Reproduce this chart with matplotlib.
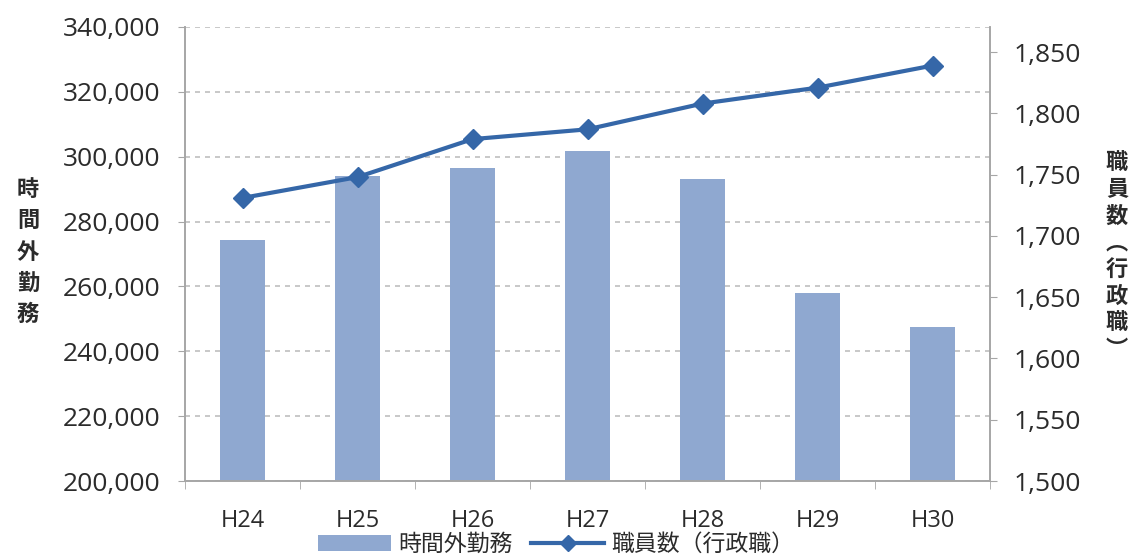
import matplotlib
matplotlib.use("Agg")
import matplotlib.pyplot as plt
import numpy as np
from matplotlib.ticker import FuncFormatter, FixedLocator

plt.rcParams['font.family'] = ['Open Sans', 'Noto Sans CJK JP', 'DejaVu Sans']

# data
years = ['H24', 'H25', 'H26', 'H27', 'H28', 'H29', 'H30']
overtime = [274400, 294000, 296400, 301700, 293000, 258000, 247500]
staff = [1731, 1748, 1779, 1787, 1808, 1821, 1839]

bar_col = '#8FA8D0'
line_col = '#3567A8'
ax_col = '#A6A6A6'
txt_col = '#2B2B2B'

fig = plt.figure(figsize=(11.31, 5.57), dpi=100)
ax = fig.add_axes([185/1131, 1-481/557, 805/1131, 454/557])
ax2 = ax.twinx()

x = np.arange(len(years))
b = ax.bar(x, [v - 200000 for v in overtime], width=0.39, bottom=200000,
           color=bar_col, zorder=2, label='時間外勤務')
l, = ax2.plot(x, staff, color=line_col, lw=3, marker='D', ms=10,
              label='職員数（行政職）', zorder=3)

ax.set_xlim(-0.5, len(years) - 0.5)
ax.set_ylim(200000, 340000)
ax2.set_ylim(1500, 1870.5)
ax.set_yticks(np.arange(200000, 340001, 20000))
ax2.set_yticks(np.arange(1500, 1851, 50))
fmt = FuncFormatter(lambda v, p: f'{int(v):,}')
ax.yaxis.set_major_formatter(fmt)
ax2.yaxis.set_major_formatter(fmt)

# grid
ax.yaxis.grid(True, color='#BFBFBF', linestyle=(0, (3, 3)), lw=1.2)
ax.set_axisbelow(True)

ax.set_xticks(x)
ax.set_xticklabels(years)
ax.xaxis.set_minor_locator(FixedLocator(np.arange(-0.5, len(years), 1)))
ax.tick_params(axis='x', which='major', length=0, pad=20, labelsize=17, colors=txt_col)
ax.tick_params(axis='x', which='minor', length=6, color=ax_col, direction='out')
ax.tick_params(axis='y', length=5, color=ax_col, labelsize=19, pad=13, labelcolor=txt_col)
ax2.tick_params(axis='y', length=5, color=ax_col, labelsize=19, pad=12, labelcolor=txt_col)

for a in (ax, ax2):
    a.spines['top'].set_visible(False)
    for s in ['left', 'right', 'bottom']:
        a.spines[s].set_color(ax_col)
        a.spines[s].set_linewidth(1.2)

# axis titles, stacked vertically
fig.text(28/1131, 1-252/557, '時\n間\n外\n勤\n務', ha='center', va='center',
         fontsize=16, fontweight='bold', color=txt_col, linespacing=1.45,
         family='Noto Sans CJK JP')
fig.text(1117/1131, 1-256/557, '職\n員\n数\n︵\n行\n政\n職\n︶', ha='center', va='center',
         fontsize=16, fontweight='bold', color=txt_col, linespacing=1.2,
         family='Noto Sans CJK JP')

fig.legend(handles=[b, l], loc='center', bbox_to_anchor=(556/1131, 1-545/557),
           ncol=2, frameon=False, fontsize=16.5, handlelength=3.2, handletextpad=0.3,
           columnspacing=0.8, labelcolor=txt_col, markerscale=0.8)

fig.savefig('out.png', dpi=100)
